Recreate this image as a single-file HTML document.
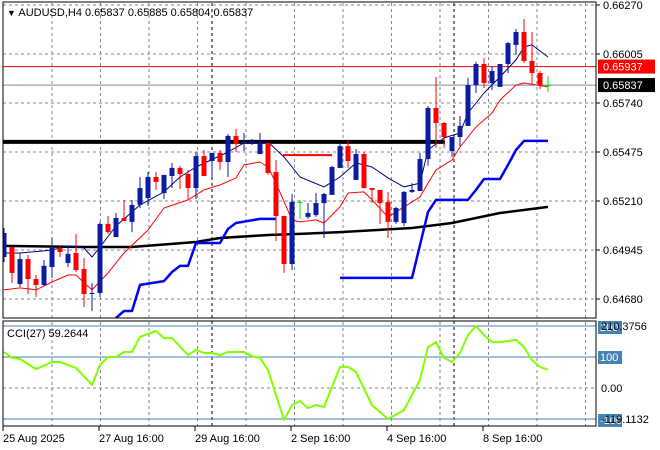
<!DOCTYPE html>
<html><head><meta charset="utf-8"><style>
html,body{margin:0;padding:0;background:#fff;}
svg{display:block;font-family:"Liberation Sans",sans-serif;font-size:11px;}
</style></head><body>
<svg id="chart" width="660" height="450" viewBox="0 0 660 450" xmlns="http://www.w3.org/2000/svg">
<rect x="0" y="0" width="660" height="450" fill="#fff"/>
<g id="grid"></g>
<g id="lines"></g>
<g id="candles"></g>
<g id="cci"></g>
<rect x="3" y="2" width="593" height="316" fill="none" stroke="#000" stroke-width="1"/>
<rect x="3" y="321" width="593" height="105" fill="none" stroke="#000" stroke-width="1"/>
<g id="axes"></g>
<text x="7" y="16"><tspan font-size="9">▼</tspan> AUDUSD,H4  0.65837 0.65885 0.65804 0.65837</text>
<text x="7" y="337">CCI(27) 59.2644</text>
</svg>
<script>
const opens=[0.64907,0.64961,0.64761,0.64896,0.64788,0.64756,0.64853,0.64956,0.64875,0.64929,0.64842,0.64707,0.64713,0.65086,0.65015,0.65118,0.65097,0.65189,0.65226,0.65340,0.65253,0.65345,0.65389,0.65356,0.65280,0.65453,0.65426,0.65470,0.65421,0.65562,0.65524,0.65529,0.65464,0.65524,0.65367,0.65129,0.64869,0.65205,0.65124,0.65134,0.65199,0.65243,0.65389,0.65507,0.65324,0.65464,0.65280,0.65270,0.65205,0.65097,0.65091,0.65259,0.65264,0.65437,0.65713,0.65632,0.65480,0.65556,0.65616,0.65837,0.65951,0.65848,0.65827,0.65951,0.66054,0.66124,0.65967,0.65902,0.65837];
const highs=[0.65064,0.64961,0.64929,0.64918,0.64810,0.64891,0.65010,0.64972,0.64967,0.65032,0.64902,0.64767,0.65097,0.65129,0.65145,0.65216,0.65216,0.65340,0.65367,0.65367,0.65351,0.65416,0.65400,0.65378,0.65475,0.65486,0.65470,0.65486,0.65572,0.65599,0.65578,0.65545,0.65578,0.65524,0.65432,0.65129,0.65248,0.65216,0.65199,0.65253,0.65253,0.65400,0.65518,0.65540,0.65491,0.65475,0.65280,0.65270,0.65259,0.65178,0.65264,0.65307,0.65470,0.65724,0.65881,0.65637,0.65556,0.65670,0.65875,0.65962,0.65983,0.65940,0.65951,0.66070,0.66140,0.66194,0.66124,0.65913,0.65886];
const lows=[0.64880,0.64767,0.64745,0.64707,0.64691,0.64750,0.64794,0.64907,0.64853,0.64826,0.64637,0.64615,0.64691,0.65032,0.65015,0.65102,0.65042,0.65172,0.65183,0.65270,0.65221,0.65280,0.65275,0.65221,0.65221,0.65345,0.65335,0.65378,0.65340,0.65475,0.65480,0.65513,0.65464,0.65351,0.64994,0.64821,0.64837,0.65113,0.65113,0.65124,0.65010,0.65243,0.65389,0.65389,0.65324,0.65280,0.65199,0.65086,0.65010,0.65086,0.65075,0.65253,0.65264,0.65400,0.65497,0.65497,0.65448,0.65507,0.65616,0.65794,0.65821,0.65810,0.65827,0.65902,0.66000,0.65956,0.65837,0.65816,0.65800];
const closes=[0.65037,0.64821,0.64896,0.64788,0.64756,0.64859,0.64956,0.64934,0.64924,0.64837,0.64707,0.64713,0.65086,0.65042,0.65118,0.65102,0.65189,0.65280,0.65340,0.65313,0.65351,0.65389,0.65356,0.65280,0.65453,0.65345,0.65470,0.65421,0.65562,0.65518,0.65529,0.65532,0.65524,0.65362,0.65129,0.64869,0.65205,0.65205,0.65145,0.65199,0.65248,0.65394,0.65507,0.65426,0.65464,0.65280,0.65270,0.65199,0.65097,0.65172,0.65259,0.65270,0.65437,0.65713,0.65632,0.65556,0.65556,0.65616,0.65837,0.65951,0.65848,0.65913,0.65951,0.66064,0.66124,0.65967,0.65902,0.65837,0.65837];

const fastMaIdx=[0,2,5,6,8,10,11,12,14,17,20,22,24,28,30,33,35,37,40,42,44,46,48,50,52,53,55,57,58,60,62,64,65,66,68];
const fastMaVal=[0.64929,0.64929,0.64940,0.64945,0.64967,0.64956,0.64907,0.64961,0.65075,0.65189,0.65259,0.65340,0.65394,0.65475,0.65524,0.65529,0.65448,0.65340,0.65286,0.65340,0.65416,0.65394,0.65335,0.65286,0.65307,0.65486,0.65551,0.65578,0.65686,0.65794,0.65881,0.65973,0.66043,0.66054,0.65989];
const slowMaIdx=[0,2,4,6,8,9,10,11,13,15,18,20,23,25,27,29,30,32,33,34,36,37,39,40,42,43,45,46,48,50,52,54,56,57,59,61,62,64,65,68];
const slowMaVal=[0.64729,0.64740,0.64729,0.64772,0.64810,0.64810,0.64767,0.64729,0.64821,0.64929,0.65053,0.65172,0.65216,0.65270,0.65297,0.65335,0.65405,0.65421,0.65394,0.65307,0.65108,0.65097,0.65108,0.65091,0.65178,0.65253,0.65259,0.65216,0.65124,0.65178,0.65232,0.65378,0.65432,0.65502,0.65610,0.65686,0.65756,0.65837,0.65848,0.65827];
const stopAIdx=[14,15,16,17,20,21,22,23,24,27,28,29,32,34];
const stopAVal=[0.64577,0.64615,0.64615,0.64756,0.64777,0.64826,0.64859,0.64859,0.64983,0.64983,0.65059,0.65091,0.65113,0.65113];
const stopBIdx=[42,51,52,53,54,58,59,60,62,63,64,65,68];
const stopBVal=[0.64794,0.64794,0.64972,0.65151,0.65216,0.65216,0.65270,0.65329,0.65329,0.65405,0.65486,0.65535,0.65535];
const longMaIdx=[0,10,16,24,27,33,37,42,51,56,62,68];
const longMaVal=[0.64967,0.64961,0.64961,0.64988,0.65010,0.65026,0.65032,0.65042,0.65064,0.65091,0.65145,0.65178];
const cciIdx=[0,1,2,4,6,7,9,11,12,13,14,15,16,17,19,20,21,23,24,25,26,27,28,30,31,32,33,35,36,37,38,39,40,42,43,44,46,48,50,52,53,54,55,56,57,58,59,60,61,62,64,65,66,67,68];
const cciVal=[116,97,94,61,84,84,65,10,74,100,100,116,116,165,184,161,161,106,123,113,113,106,116,116,103,97,58,-103,-55,-42,-65,-55,-61,68,68,52,-55,-100,-71,26,132,148,97,84,113,171,200,171,148,148,155,132,90,68,59];
const priceTicks=[0.66270,0.66005,0.65740,0.65475,0.65210,0.64945,0.64680];
const priceTickLabels=["0.66270","0.66005","0.65740","0.65475","0.65210","0.64945","0.64680"];
const dateTickIdx=[0,12,24,36,48,60];
const dateTickLabels=["25 Aug 2025","27 Aug 16:00","29 Aug 16:00","2 Sep 16:00","4 Sep 16:00","8 Sep 16:00"];
const resistance=0.65530, redLevel=0.65458, bidPrice=0.65937, lastPrice=0.65837;
const cciLevels=[200,100,-100];

const NS="http://www.w3.org/2000/svg";
const yP=p=>5+(0.66270-p)/0.00265*49;
const xI=i=>4+8*i;
const yC=v=>388-v*0.31;
function el(tag,attrs,parent){const e=document.createElementNS(NS,tag);for(const k in attrs)e.setAttribute(k,attrs[k]);parent.appendChild(e);return e;}
const grid=document.getElementById('grid'),lines=document.getElementById('lines'),cg=document.getElementById('candles'),cci=document.getElementById('cci'),axes=document.getElementById('axes');

for(let k=0;k<12;k++){const x=52+48.5*k;
 let g=el('line',{x1:x,y1:3,x2:x,y2:318,stroke:'#7a8a99','stroke-dasharray':'3,3'},grid);
 
 
 g=el('line',{x1:x,y1:322,x2:x,y2:426,stroke:'#7a8a99','stroke-dasharray':'3,3'},grid);
 
 }
priceTicks.forEach(p=>{const y=yP(p);
 const g=el('line',{x1:3,y1:y,x2:596,y2:y,stroke:'#7a8a99','stroke-dasharray':'3,3'},grid);
 
 });
[212,454].forEach(x=>{const g=el('line',{x1:x,y1:3,x2:x,y2:426,stroke:'#000','stroke-dasharray':'3,3'},grid);
 
 });
let g0=el('line',{x1:3,y1:yC(0),x2:596,y2:yC(0),stroke:'#7a8a99','stroke-dasharray':'3,3'},grid);



const defs=el('defs',{},document.getElementById('chart'));
const cp=el('clipPath',{id:'mainclip'},defs);el('rect',{x:3,y:2,width:593,height:316},cp);
lines.setAttribute('clip-path','url(#mainclip)');cg.setAttribute('clip-path','url(#mainclip)');

function poly(idx,val,color,w,name,yf){const pts=idx.map((i,k)=>xI(i)+','+yf(val[k]).toFixed(1)).join(' ');
 const p=el('polyline',{points:pts,fill:'none',stroke:color,'stroke-width':w,'stroke-linejoin':'round'},name.startsWith('cci')?cci:lines);
 
 }
let r=el('line',{x1:3,y1:yP(resistance),x2:445,y2:yP(resistance),stroke:'#000','stroke-width':4},lines);


r=el('line',{x1:283,y1:yP(redLevel),x2:332,y2:yP(redLevel),stroke:'#ff0000','stroke-width':2},lines);


r=el('line',{x1:3,y1:yP(bidPrice),x2:596,y2:yP(bidPrice),stroke:'#ff0000','stroke-width':1},lines);


r=el('line',{x1:3,y1:yP(lastPrice),x2:596,y2:yP(lastPrice),stroke:'#7a8a99','stroke-width':1},lines);


poly(longMaIdx,longMaVal,'#000',2.5,'long-ma-line',yP);
poly(stopAIdx,stopAVal,'#0000ff',2.5,'trailing-stop-segment-1',yP);
poly(stopBIdx,stopBVal,'#0000ff',2.5,'trailing-stop-segment-2',yP);
poly(slowMaIdx,slowMaVal,'#ff0000',1,'slow-ma-line',yP);
poly(fastMaIdx,fastMaVal,'#000080',1,'fast-ma-line',yP);

opens.forEach((o,i)=>{const c=closes[i],x=xI(i);
 const col=c>o?'#0c1ca0':(c<o?'#ff0000':'#00e000');
 const w=el('line',{x1:x,y1:yP(highs[i]),x2:x,y2:yP(lows[i]),stroke:col,'stroke-width':1},cg);
 
 
 const t=yP(Math.max(o,c)),b=yP(Math.min(o,c));
 const bd=el('rect',{x:x-2.5,y:t,width:5,height:Math.max(b-t,1),fill:col},cg);
 
 });

cciLevels.forEach(v=>{const l=el('line',{x1:3,y1:yC(v),x2:596,y2:yC(v),stroke:'#4682b4','stroke-width':1},cci);
 
 });
poly(cciIdx,cciVal,'#7fff00',2,'cci-line',yC);

priceTicks.forEach((p,k)=>{const t=el('text',{x:603,y:yP(p)+4},axes);t.textContent=priceTickLabels[k];
 
 
 const tk=el('line',{x1:596,y1:yP(p),x2:600,y2:yP(p),stroke:'#000'},axes);
 
 });
function tag(p,bg,name){const y=yP(p);
 const b=el('rect',{x:598,y:y-7,width:57,height:14,fill:bg},axes);
 
 
 const t=el('text',{x:603,y:y+4,fill:'#fff'},axes);t.textContent=p.toFixed(5);
 
 }
tag(bidPrice,'#ff0000','ask-price');
tag(lastPrice,'#000','bid-price');
dateTickIdx.forEach((i,k)=>{const x=xI(i)-1;
 const t=el('text',{x:x,y:442},axes);t.textContent=dateTickLabels[k];
 
 
 const tk=el('line',{x1:x,y1:426,x2:x,y2:431,stroke:'#000'},axes);
 
 });
function cbox(y,txt,name){const b=el('rect',{x:598,y:y-6,width:24,height:13,fill:'#4682b4'},axes);
 
 
 const t=el('text',{x:600,y:y+4,fill:'#fff'},axes);t.textContent=txt;
 
 }
cbox(yC(200)+1,'200','cci-200');
cbox(yC(100),'100','cci-100');
cbox(yC(-100)+1,'-100','cci-minus-100');
[['210.3756',330],['0.00',yC(0)+4],['-119.1132',423]].forEach(([s,y])=>{const t=el('text',{x:601,y:y},axes);t.textContent=s;
 
 });
</script>
</body></html>
